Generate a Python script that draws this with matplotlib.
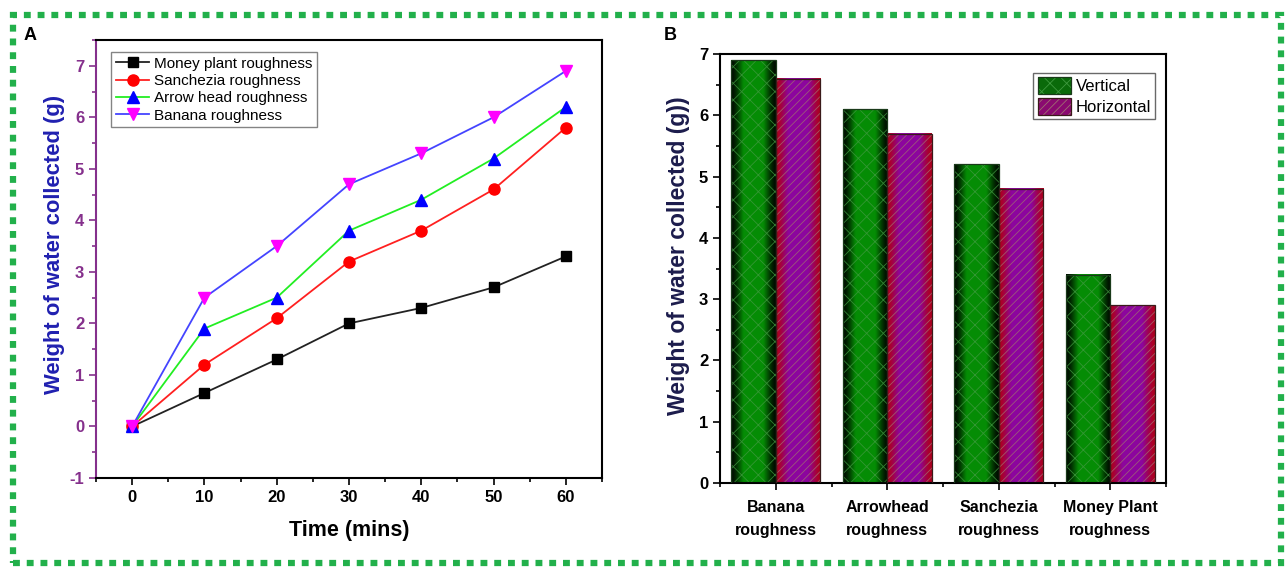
import matplotlib.pyplot as plt
import numpy as np
from matplotlib.patches import Rectangle, Patch
from matplotlib.ticker import MultipleLocator, FixedLocator

plt.rcParams['font.family'] = ['Liberation Sans', 'DejaVu Sans']
plt.rcParams['hatch.linewidth'] = 0.6
plt.rcParams['axes.unicode_minus'] = False

# panel A data
time = [0, 10, 20, 30, 40, 50, 60]
money = [0, 0.65, 1.3, 2.0, 2.3, 2.7, 3.3]
sanchezia = [0, 1.2, 2.1, 3.2, 3.8, 4.6, 5.8]
arrow = [0, 1.9, 2.5, 3.8, 4.4, 5.2, 6.2]
banana = [0, 2.5, 3.5, 4.7, 5.3, 6.0, 6.9]

# panel B data
cats = ['Banana\nroughness', 'Arrowhead\nroughness', 'Sanchezia\nroughness', 'Money Plant\nroughness']
vertical = [6.9, 6.1, 5.2, 3.4]
horizontal = [6.6, 5.7, 4.8, 2.9]

W, H = 1287, 568
fig = plt.figure(figsize=(W / 100, H / 100), dpi=100)

def box(l, t, r, b):
    return [l / W, 1 - b / H, (r - l) / W, (b - t) / H]

purple = '#85308c'

# ---------------- A ----------------
ax = fig.add_axes(box(96, 40, 602, 478))
ax.plot(time, money, '-', color='#222222', lw=1.3, marker='s', ms=7, mfc='k', mec='k', label='Money plant roughness')
ax.plot(time, sanchezia, '-', color='#ff2020', lw=1.3, marker='o', ms=8, mfc='#ff0000', mec='#ff0000', label='Sanchezia roughness')
ax.plot(time, arrow, '-', color='#22ee22', lw=1.3, marker='^', ms=8, mfc='#0000ff', mec='#0000ff', label='Arrow head roughness')
ax.plot(time, banana, '-', color='#4444ff', lw=1.3, marker='v', ms=8, mfc='#ff00ff', mec='#ff00ff', label='Banana roughness')
ax.set_xlim(-5, 65)
ax.set_ylim(-1, 7.5)
ax.xaxis.set_major_locator(MultipleLocator(10))
ax.xaxis.set_minor_locator(MultipleLocator(5))
ax.yaxis.set_major_locator(MultipleLocator(1))
ax.yaxis.set_minor_locator(MultipleLocator(0.5))
ax.tick_params(which='both', direction='out', width=1.2)
ax.tick_params(which='major', length=5, labelsize=12)
ax.tick_params(which='minor', length=3)
ax.tick_params(axis='y', which='both', colors=purple, labelcolor=purple)
for t in ax.get_xticklabels() + ax.get_yticklabels():
    t.set_fontweight('bold')
for s in ax.spines.values():
    s.set_linewidth(1.5)
ax.spines['left'].set_color(purple)
ax.set_xlabel('Time (mins)', fontsize=15.5, fontweight='bold', labelpad=11)
ax.set_ylabel('Weight of water collected (g)', fontsize=15.8, fontweight='bold', color='#2020b0')
ax.yaxis.set_label_coords(-0.062, 0.534)
leg = ax.legend(loc='upper left', fontsize=11, handlelength=2.2, handletextpad=0.3,
                borderpad=0.3, labelspacing=0.22, fancybox=False, edgecolor='#666666',
                bbox_to_anchor=(0.015, 0.99))
leg.get_frame().set_linewidth(1.0)

# ---------------- B ----------------
bx = fig.add_axes(box(720, 54, 1166, 483))
xpos = np.arange(len(cats))
bw = 0.4

def grad(c_edge, c_mid, n=64, p=1.6):
    t = np.linspace(0, 1, n)
    w = np.clip(np.sin(np.pi * t) * 1.3, 0, 1) ** p
    e = np.array(c_edge)
    m = np.array(c_mid)
    return (e[None, :] * (1 - w[:, None]) + m[None, :] * w[:, None])[None, :, :]

g_img = grad([0.0, 0.05, 0.0], [0.02, 0.55, 0.02])
p_img = grad([0.68, 0.0, 0.12], [0.55, 0.02, 0.62])

for i in range(len(cats)):
    x0 = xpos[i] - bw
    bx.imshow(g_img, extent=[x0, x0 + bw, 0, vertical[i]], aspect='auto', zorder=1, interpolation='bilinear')
    x1 = xpos[i]
    bx.imshow(p_img, extent=[x1, x1 + bw, 0, horizontal[i]], aspect='auto', zorder=1, interpolation='bilinear')

bx.bar(xpos - bw / 2, vertical, bw, facecolor='none', edgecolor='#3f9a3f', lw=0, hatch='xx', zorder=2, alpha=0.8)
bx.bar(xpos + bw / 2, horizontal, bw, facecolor='none', edgecolor='#a07070', lw=0, hatch='////', zorder=2, alpha=0.8)
bx.bar(xpos - bw / 2, vertical, bw, fill=False, edgecolor='#1a3a1a', lw=0.9, zorder=3)
bx.bar(xpos + bw / 2, horizontal, bw, fill=False, edgecolor='#3a1a1a', lw=0.9, zorder=3)

bx.set_xlim(-0.5, 3.5)
bx.set_ylim(0, 7)
bx.set_xticks(xpos)
bx.set_xticklabels(cats, fontsize=11.5, fontweight='bold', linespacing=1.7)
bx.xaxis.set_minor_locator(FixedLocator([-0.5, 0.5, 1.5, 2.5, 3.5]))
bx.yaxis.set_major_locator(MultipleLocator(1))
bx.yaxis.set_minor_locator(MultipleLocator(0.5))
bx.tick_params(which='both', direction='out', width=1.2)
bx.tick_params(which='major', length=5, labelsize=12)
bx.tick_params(axis='x', which='major', pad=7, labelsize=11.5)
bx.tick_params(which='minor', length=3)
for t in bx.get_yticklabels() + bx.get_xticklabels():
    t.set_fontweight('bold')
for s in bx.spines.values():
    s.set_linewidth(1.5)
bx.set_ylabel('Weight of water collected (g))', fontsize=16.5, fontweight='bold', color='#1c1c4c')
bx.yaxis.set_label_coords(-0.068, 0.531)

h_v = (Patch(facecolor='#0a6a0a', edgecolor='none'),
       Patch(facecolor='none', edgecolor='#3f9a3f', hatch='xx', lw=0),
       Patch(fill=False, edgecolor='#1a3a1a', lw=0.9))
h_h = (Patch(facecolor='#8a0a70', edgecolor='none'),
       Patch(facecolor='none', edgecolor='#a07070', hatch='////', lw=0),
       Patch(fill=False, edgecolor='#3a1a1a', lw=0.9))
leg2 = bx.legend([h_v, h_h], ['Vertical', 'Horizontal'], loc='upper right', fontsize=12,
                 fancybox=False, edgecolor='#444444', borderpad=0.25, labelspacing=0.2,
                 handlelength=2.0, handleheight=1.2, handletextpad=0.3,
                 bbox_to_anchor=(0.995, 0.975))
leg2.get_frame().set_linewidth(1.0)

# panel letters and dotted frame
fig.text(24 / W, 1 - 36 / H, 'A', fontsize=13, fontweight='bold', va='center')
fig.text(664 / W, 1 - 36 / H, 'B', fontsize=13, fontweight='bold', va='center')
fig.patches.append(Rectangle((13 / W, 1 - 563 / H), (1281 - 13) / W, (563 - 15) / H,
                             transform=fig.transFigure, fill=False, edgecolor='#22b04b',
                             lw=4.5, linestyle=(0, (1.1, 1.1))))

fig.savefig('out.png', dpi=100)
